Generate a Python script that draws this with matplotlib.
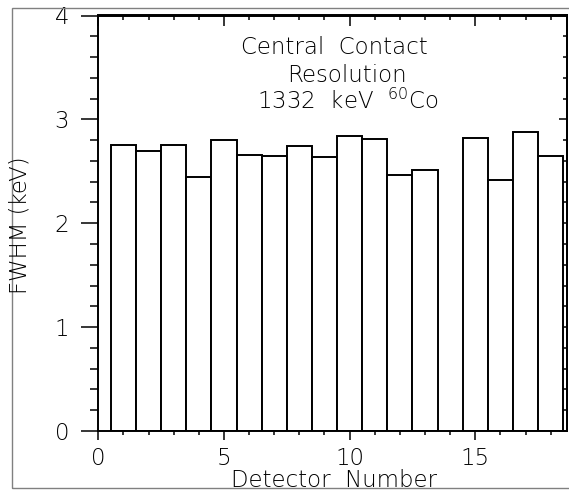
import matplotlib
matplotlib.use("Agg")
import matplotlib.pyplot as plt
from matplotlib.ticker import MultipleLocator, NullFormatter
from matplotlib.patches import Rectangle

# ---- data ----
detectors = [1, 2, 3, 4, 5, 6, 7, 8, 9, 10, 11, 12, 13, 15, 16, 17, 18]
fwhm = [2.75, 2.70, 2.75, 2.45, 2.80, 2.66, 2.65, 2.74, 2.64, 2.84,
        2.81, 2.46, 2.51, 2.82, 2.42, 2.88, 2.65]
title_lines = ["Central  Contact", "Resolution", "1332  keV  $^{60}$Co"]
xlabel = "Detector  Number"
ylabel = "FWHM (keV)"

plt.rcParams['font.family'] = ['DejaVu Sans']
plt.rcParams['font.weight'] = 'light'
plt.rcParams['mathtext.fontset'] = 'dejavusans'

W, H = 569, 492
fig = plt.figure(figsize=(W / 100, H / 100), dpi=100)

left, right, top, bottom = 98.3, 567.0, 15.5, 431.0
ax = fig.add_axes([left / W, 1 - bottom / H, (right - left) / W, (bottom - top) / H])

ax.bar(detectors, fwhm, width=1.0, color='white', edgecolor='black',
       linewidth=1.4, zorder=2)

ax.set_xlim(0, 18.65)
ax.set_ylim(0, 4)

for s in ax.spines.values():
    s.set_linewidth(1.4)

ax.xaxis.set_major_locator(MultipleLocator(5))
ax.xaxis.set_minor_locator(MultipleLocator(1))
ax.yaxis.set_major_locator(MultipleLocator(1))
ax.yaxis.set_minor_locator(MultipleLocator(0.2))

ax.tick_params(axis='x', which='major', direction='out', length=6.7, width=1.1,
               labelsize=16.5, pad=5.0, top=False)
ax.tick_params(axis='x', which='minor', direction='out', length=3.2, width=1.1, top=False)
ax.tick_params(axis='y', which='major', direction='out', length=12.0, width=1.1,
               labelsize=16.5, pad=9.0, right=False)
ax.tick_params(axis='y', which='minor', direction='out', length=6.0, width=1.1, right=False)

# top and right axes with inward ticks
secx = ax.secondary_xaxis('top')
secx.xaxis.set_major_locator(MultipleLocator(5))
secx.xaxis.set_minor_locator(MultipleLocator(1))
secx.xaxis.set_major_formatter(NullFormatter())
secx.tick_params(axis='x', which='major', direction='in', length=8.0, width=1.1)
secx.tick_params(axis='x', which='minor', direction='in', length=3.6, width=1.1)
secx.spines['top'].set_linewidth(1.4)

secy = ax.secondary_yaxis('right')
secy.yaxis.set_major_locator(MultipleLocator(1))
secy.yaxis.set_minor_locator(MultipleLocator(0.2))
secy.yaxis.set_major_formatter(NullFormatter())
secy.tick_params(axis='y', which='major', direction='in', length=5.8, width=1.1)
secy.tick_params(axis='y', which='minor', direction='in', length=2.9, width=1.1)
secy.spines['right'].set_linewidth(1.4)

# title lines inside plot (pixel positions -> figure fraction)
title_pos = [(334, 54), (347, 82), (348, 109)]
for txt, (px, py) in zip(title_lines, title_pos):
    fig.text(px / W, 1 - py / H, txt, ha='center', va='baseline', fontsize=16.5)

fig.text(334 / W, 1 - 487 / H, xlabel, ha='center', va='baseline', fontsize=16.5)
fig.text(20 / W, 1 - 225 / H, ylabel, ha='center', va='center', rotation=90, fontsize=16.5)

# outer gray frame
fig.patches.append(Rectangle((12 / W, 1 - 488 / H), 1.2, (488 - 7.5) / H,
                             transform=fig.transFigure, fill=False,
                             edgecolor='#808080', linewidth=1.0))

fig.savefig("out.png", dpi=100)
